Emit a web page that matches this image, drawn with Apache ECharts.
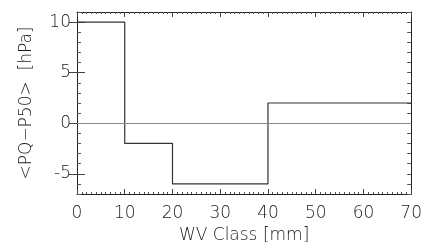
<!DOCTYPE html>
<html>
<head>
<meta charset="utf-8">
<script src="https://cdn.jsdelivr.net/npm/echarts@6/dist/echarts.min.js"></script>
<style>
  html, body { margin: 0; padding: 0; background: #fff; }
  #chart { width: 425px; height: 249px; }
</style>
</head>
<body>
<div id="chart"></div>
<script>
// class edges along x (mm) and the mean difference in each class (hPa)
const classEdges = [0, 10, 20, 40, 70];
const classValues = [10, -2, -6, 2];
const yMajorTicks = [-5, 0, 5, 10];

// step points: each class value starts at its left edge, last one repeated at the far edge
const stepData = classEdges.map(function (x, i) {
  const v = i < classValues.length ? classValues[i] : classValues[classValues.length - 1];
  return [x, v];
});

const font = "DejaVu Sans";
const ink = "#1a1a1a";

function xAx(pos, labels) {
  return {
    type: "value", position: pos, min: 0, max: 70, interval: 10,
    name: labels ? "WV Class [mm]" : "",
    nameLocation: "middle", nameGap: 33,
    nameTextStyle: { fontFamily: font, fontWeight: 200, fontSize: 17, color: ink },
    axisLine: { show: true, onZero: false, lineStyle: { color: "#222", width: 1 } },
    axisTick: { show: true, inside: true, length: 5, lineStyle: { color: "#444" } },
    minorTick: { show: true, splitNumber: 10, length: 2, lineStyle: { color: "#555" } },
    axisLabel: { show: labels, margin: 11, fontFamily: font, fontWeight: 200, fontSize: 17, color: ink },
    splitLine: { show: false }
  };
}

function yMinor(pos) {
  return {
    type: "value", position: pos, min: -7, max: 11, interval: 1,
    axisLine: { show: true, onZero: false, lineStyle: { color: "#222", width: 1 } },
    axisTick: { show: true, inside: true, length: 4, lineStyle: { color: "#555" } },
    axisLabel: { show: false },
    splitLine: { show: false }
  };
}

function yMajor(pos, labels) {
  return {
    type: "value", position: pos, min: -7, max: 11,
    name: labels ? "<PQ\u2212P50>  [hPa]" : "",
    nameLocation: "middle", nameGap: 42, nameRotate: 90,
    nameTextStyle: { fontFamily: font, fontWeight: 200, fontSize: 17, color: ink },
    axisLine: { show: false },
    axisTick: { show: true, inside: true, length: 8, customValues: yMajorTicks, lineStyle: { color: "#444" } },
    axisLabel: { show: labels, margin: 6, fontFamily: font, fontWeight: 200, fontSize: 17, color: ink, customValues: yMajorTicks },
    splitLine: { show: false }
  };
}

const chart = echarts.init(document.getElementById("chart"));
chart.setOption({
  backgroundColor: "#fff",
  animation: false,
  grid: { left: 77, right: 11, top: 12, bottom: 53 },
  xAxis: [xAx("bottom", true), xAx("top", false)],
  yAxis: [yMinor("left"), yMajor("left", true), yMinor("right"), yMajor("right", false)],
  series: [
    {
      type: "line",
      xAxisIndex: 0, yAxisIndex: 0,
      step: "end",
      symbol: "none",
      data: stepData,
      lineStyle: { color: "#333", width: 1.2 },
      markLine: {
        silent: true,
        symbol: "none",
        label: { show: false },
        lineStyle: { color: "#888", width: 1, type: "solid" },
        data: [{ yAxis: 0 }]
      }
    }
  ]
});
</script>
</body>
</html>
